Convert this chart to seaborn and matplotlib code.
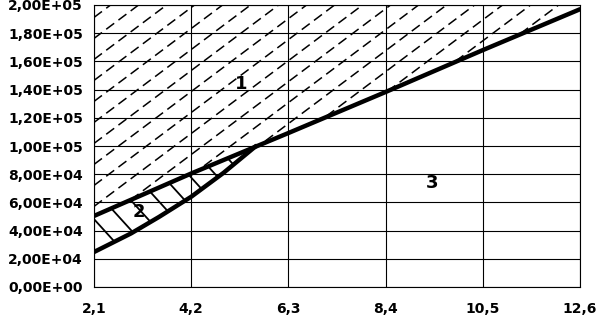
import matplotlib
matplotlib.use('Agg')
import matplotlib.pyplot as plt
from matplotlib.patches import Polygon
import numpy as np
import seaborn as sns

# boundary curves
x_upper = [2.1, 4.2, 6.3, 8.4, 10.5, 12.6]
y_upper = [50400, 80500, 109200, 138300, 168000, 197000]
x_lower = [2.1, 2.9, 3.5, 4.2, 4.9, 5.6]
y_lower = [24800, 38000, 49600, 64000, 81000, 100000]

x_ticks = [2.1, 4.2, 6.3, 8.4, 10.5, 12.6]
x_labels = ['2,1', '4,2', '6,3', '8,4', '10,5', '12,6']
y_ticks = [0, 20000, 40000, 60000, 80000, 100000, 120000, 140000, 160000, 180000, 200000]
y_labels = ['0,00E+00', '2,00E+04', '4,00E+04', '6,00E+04', '8,00E+04', '1,00E+05',
            '1,20E+05', '1,40E+05', '1,60E+05', '1,80E+05', '2,00E+05']

region_names = ['1', '2', '3']
region_x = [5.29, 3.06, 9.41]
region_y = [144000, 53400, 73500]

sns.set_style('white')
plt.rcParams['font.family'] = ['DejaVu Sans']

fig = plt.figure(figsize=(5.99, 3.17), dpi=100)
ax = fig.add_axes([94 / 599, 30 / 317, 486 / 599, 282 / 317])

xmin, xmax = x_ticks[0], x_ticks[-1]
ymin, ymax = y_ticks[0], y_ticks[-1]

# region 1: above the upper curve
top_poly = Polygon(list(zip(x_upper, y_upper)) + [(xmax, ymax), (xmin, ymax)],
                   closed=True, facecolor='none', edgecolor='none')
ax.add_patch(top_poly)

# region 2: between the curves
up_part = [(x, y) for x, y in zip(x_upper, y_upper) if x < x_lower[-1]]
mid_poly = Polygon(up_part + list(zip(x_lower, y_lower))[::-1],
                   closed=True, facecolor='none', edgecolor='none')
ax.add_patch(mid_poly)

# hatching, slopes given in pixels and converted to data units
px_x = (xmax - xmin) / 486
px_y = (ymax - ymin) / 282

s1 = 0.75 * px_y / px_x
for c in np.arange(xmin - 12, xmax + 1, 28 * px_x):
    ln, = ax.plot([xmin, xmax], [s1 * (xmin - c), s1 * (xmax - c)],
                  color='black', lw=1.1, linestyle=(0, (6.5, 3.5)))
    ln.set_clip_path(top_poly)

s2 = -1.1 * px_y / px_x
for c in np.arange(xmin - 1, xmax + 6, 27 * px_x):
    ln, = ax.plot([xmin, xmax], [s2 * (xmin - c), s2 * (xmax - c)],
                  color='black', lw=1.3)
    ln.set_clip_path(mid_poly)

sns.lineplot(x=x_upper, y=y_upper, color='black', lw=3.2, ax=ax)
sns.lineplot(x=x_lower, y=y_lower, color='black', lw=3.2, ax=ax)

for name, tx, ty in zip(region_names, region_x, region_y):
    ax.text(tx, ty, name, ha='center', va='center', fontsize=13, fontweight='bold',
            color='black')

ax.set_xlim(xmin, xmax)
ax.set_ylim(ymin, ymax)
ax.set_xticks(x_ticks)
ax.set_xticklabels(x_labels, fontweight='bold')
ax.set_yticks(y_ticks)
ax.set_yticklabels(y_labels, fontweight='bold')
ax.tick_params(axis='both', direction='out', length=3, width=0.8, colors='black',
               labelsize=10)
ax.tick_params(axis='x', pad=8)
ax.tick_params(axis='y', pad=5)
ax.grid(True, color='black', lw=0.8)
ax.set_axisbelow(True)
for sp in ax.spines.values():
    sp.set_color('black')
    sp.set_linewidth(0.8)
ax.set_xlabel('')
ax.set_ylabel('')

fig.savefig('out.png', dpi=100)
